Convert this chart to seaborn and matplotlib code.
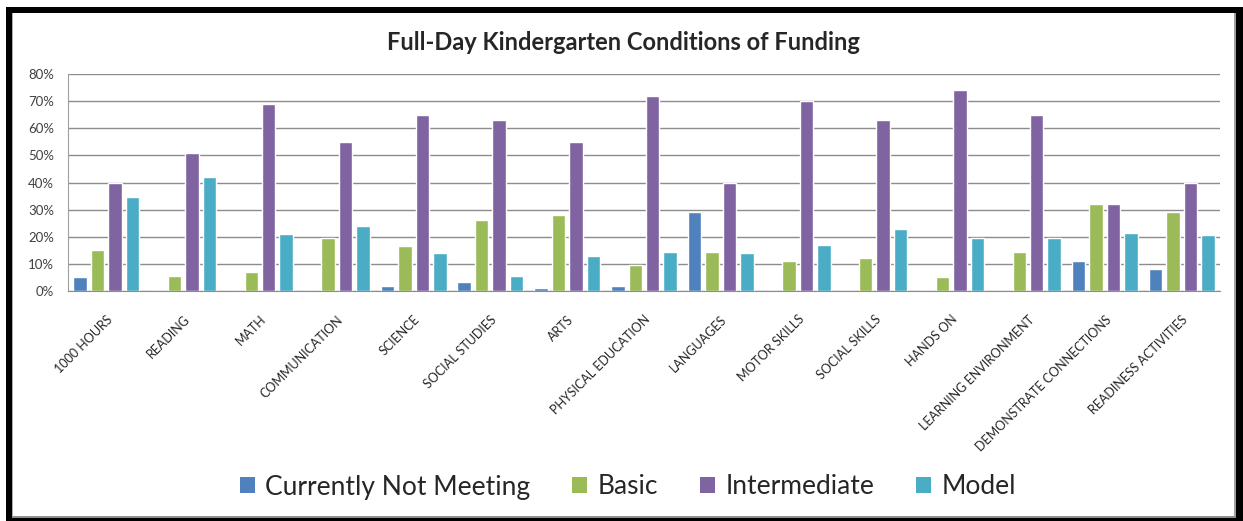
import matplotlib
matplotlib.use('Agg')
import matplotlib.pyplot as plt
from matplotlib.patches import Patch, Rectangle
from matplotlib.ticker import FuncFormatter, MultipleLocator
import seaborn as sns
import pandas as pd

categories = ['1000 HOURS', 'READING', 'MATH', 'COMMUNICATION', 'SCIENCE',
              'SOCIAL STUDIES', 'ARTS', 'PHYSICAL EDUCATION', 'LANGUAGES',
              'MOTOR SKILLS', 'SOCIAL SKILLS', 'HANDS ON',
              'LEARNING ENVIRONMENT', 'DEMONSTRATE CONNECTIONS',
              'READINESS ACTIVITIES']
not_meeting = [5, 0, 0, 0, 2, 3.5, 1, 2, 29, 0, 0, 0, 0, 11, 8]
basic = [15, 5.5, 7, 19.5, 16.5, 26, 28, 9.5, 14.5, 11, 12, 5, 14.5, 32, 29]
intermediate = [40, 51, 69, 55, 65, 63, 55, 72, 40, 70, 63, 74, 65, 32, 40]
model = [34.5, 42, 21, 24, 14, 5.5, 13, 14.5, 14, 17, 23, 19.5, 19.5, 21.5, 20.5]

series = ['Currently Not Meeting', 'Basic', 'Intermediate', 'Model']
colors = ['#4F81BD', '#9BBB59', '#8064A2', '#4BACC6']

rows = []
for name, vals in zip(series, [not_meeting, basic, intermediate, model]):
    for cat, v in zip(categories, vals):
        rows.append({'Category': cat, 'Level': name, 'Value': v})
df = pd.DataFrame(rows)

sns.set_style('white')
plt.rcParams['font.family'] = ['Lato', 'DejaVu Sans']

W, H = 1243, 521
fig = plt.figure(figsize=(W / 100, H / 100), dpi=100)
ax = fig.add_axes([68 / W, 1 - 291 / H, (1220 - 68) / W, (291 - 74) / H])

sns.barplot(data=df, x='Category', y='Value', hue='Level', order=categories,
            hue_order=series, palette=colors, width=0.91, gap=0.23,
            saturation=1, ax=ax, legend=False, errorbar=None)

ax.set_ylim(0, 80)
ax.set_xlim(-0.5, len(categories) - 0.5)
ax.yaxis.set_major_locator(MultipleLocator(10))
ax.yaxis.set_major_formatter(FuncFormatter(lambda v, p: f'{v:.0f}%'))
ax.grid(True, axis='y', color='#8c8c8c', linewidth=1)
ax.set_axisbelow(True)
for s in ['top', 'right']:
    ax.spines[s].set_visible(False)
ax.spines['left'].set_color('#a0a0a0')
ax.spines['bottom'].set_color('#8c8c8c')
ax.tick_params(axis='both', length=0)
ax.tick_params(axis='y', labelsize=9.5, labelcolor='#404040', pad=10)
ax.set_xlabel('')
ax.set_ylabel('')
plt.setp(ax.get_xticklabels(), rotation=45, ha='right', rotation_mode='anchor',
         fontsize=9)
ax.tick_params(axis='x', pad=16)

fig.text(623 / W, 1 - 43 / H, 'Full-Day Kindergarten Conditions of Funding',
         ha='center', va='center', fontsize=17, fontweight='bold')

handles = [Patch(facecolor=c, edgecolor='none') for c in colors]
fig.legend(handles, series, loc='center', bbox_to_anchor=(628 / W, 1 - 487 / H),
           ncol=4, frameon=False, fontsize=19, handlelength=0.55,
           handleheight=0.55, handletextpad=0.4, columnspacing=1.6)

# outer frame: black band with thin grey inner line
def px_rect(x0, y0, x1, y1, color):
    fig.add_artist(Rectangle((x0 / W, 1 - y1 / H), (x1 - x0) / W, (y1 - y0) / H,
                             transform=fig.transFigure, facecolor=color,
                             edgecolor='none'))

px_rect(6, 7, W, 13, 'black')
px_rect(6, 7, 12, H, 'black')
px_rect(1236, 7, W, H, 'black')
px_rect(6, 518, W, H, 'black')
px_rect(12, 13, 13, 518, '#b0b0b0')
px_rect(1234, 13, 1236, 518, '#a0a0a0')
px_rect(12, 516, 1236, 518, '#909090')

fig.savefig('out.png', dpi=100)
